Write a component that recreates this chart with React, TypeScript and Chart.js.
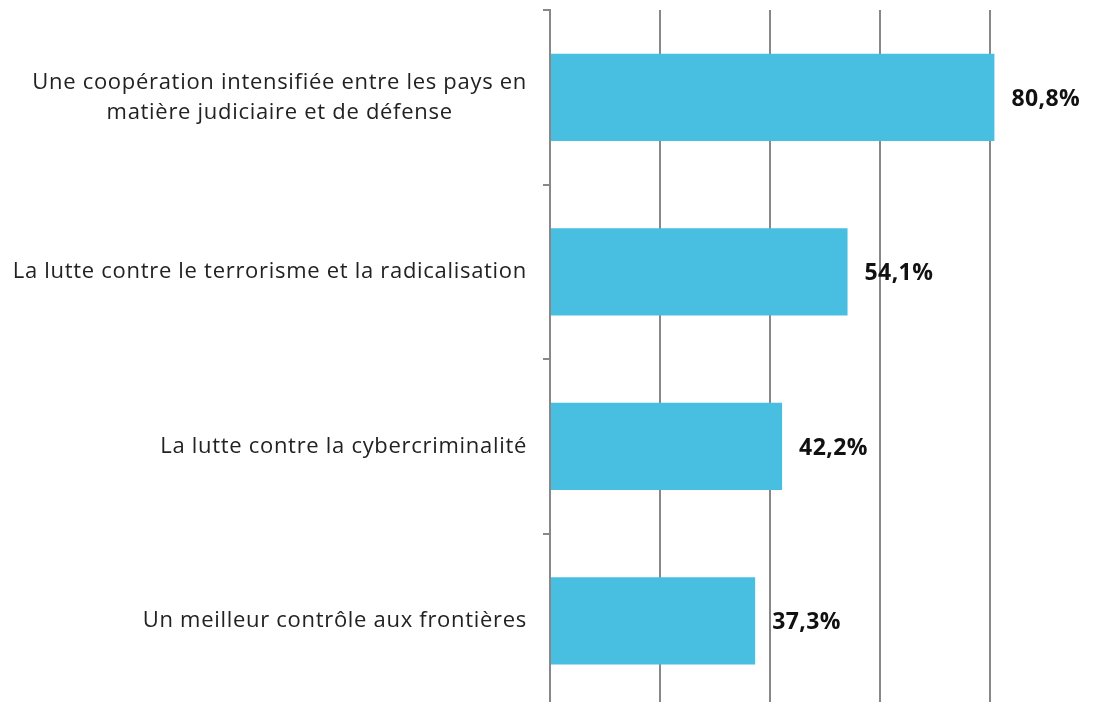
import React, { useEffect, useRef } from "react";
import { Chart, registerables } from "chart.js";

Chart.register(...registerables);

const categories: (string | string[])[] = [
  ["Une coopération intensifiée entre les pays en", "matière judiciaire et de défense"],
  "La lutte contre le terrorisme et la radicalisation",
  "La lutte contre la cybercriminalité",
  "Un meilleur contrôle aux frontières",
];
const values: number[] = [80.8, 54.1, 42.2, 37.3];
const valueLabels: string[] = ["80,8%", "54,1%", "42,2%", "37,3%"];
const xTicks: number[] = [0, 20, 40, 60, 80, 100];

const LABEL_FONT = "'Open Sans', sans-serif";

const textPlugin = {
  id: "customText",
  afterDatasetsDraw(chart: any) {
    const ctx = chart.ctx;
    const meta = chart.getDatasetMeta(0);
    const yScale = chart.scales.y;
    ctx.save();
    // category labels: block right-aligned, lines centered within block
    ctx.font = `22px ${LABEL_FONT}`;
    (ctx as any).letterSpacing = "0.7px";
    ctx.fillStyle = "#222222";
    ctx.textAlign = "center";
    ctx.textBaseline = "middle";
    const right = yScale.right - 7 - 16;
    const lineH = 30;
    categories.forEach((cat, i) => {
      const lines = Array.isArray(cat) ? cat : [cat];
      const maxW = Math.max(...lines.map((l) => ctx.measureText(l).width));
      const cx = right - maxW / 2;
      const cy = yScale.getPixelForValue(i);
      const startY = cy - ((lines.length - 1) * lineH) / 2;
      lines.forEach((l, j) => ctx.fillText(l, cx, startY + j * lineH));
    });
    // value labels
    ctx.font = `bold 23px ${LABEL_FONT}`;
    (ctx as any).letterSpacing = "0.4px";
    ctx.fillStyle = "#111111";
    ctx.textAlign = "left";
    meta.data.forEach((bar: any, i: number) => {
      ctx.fillText(valueLabels[i], bar.x + 17, bar.y + 2);
    });
    ctx.restore();
  },
};

export default function App() {
  const ref = useRef<HTMLCanvasElement | null>(null);
  useEffect(() => {
    if (!ref.current) return;
    const chart = new Chart(ref.current, {
      type: "bar",
      data: {
        labels: categories,
        datasets: [
          {
            data: values,
            backgroundColor: "#48BFE0",
            borderWidth: 0,
            barPercentage: 0.5,
            categoryPercentage: 1,
          },
        ],
      },
      options: {
        indexAxis: "y",
        animation: false,
        responsive: false,
        maintainAspectRatio: false,
        layout: { padding: { top: 2, bottom: 2, left: 0, right: 8 } },
        plugins: { legend: { display: false }, tooltip: { enabled: false } },
        scales: {
          x: {
            min: 0,
            max: 100,
            afterBuildTicks: (s: any) => {
              s.ticks = xTicks.map((v) => ({ value: v }));
            },
            afterFit: (s: any) => {
              s.height = 0;
              s.paddingLeft = 0;
              s.paddingRight = 0;
            },
            ticks: { display: false },
            border: { display: false },
            grid: { color: "#888888", lineWidth: 2, drawTicks: false },
          },
          y: {
            afterFit: (s: any) => {
              s.width = 542;
              s.paddingTop = 0;
              s.paddingBottom = 0;
            },
            border: { display: true, color: "#888888", width: 2 },
            grid: {
              drawOnChartArea: false,
              offset: true,
              tickLength: 7,
              color: "#888888",
              lineWidth: 2,
            },
            ticks: { display: false },
          },
        },
      },
      plugins: [textPlugin],
    });
    return () => chart.destroy();
  }, []);
  return (
    <div style={{ width: 1085, height: 694, overflow: "hidden", position: "relative" }}>
      <canvas ref={ref} width={1100} height={702} style={{ position: "absolute", left: 0, top: 0 }} />
    </div>
  );
}
